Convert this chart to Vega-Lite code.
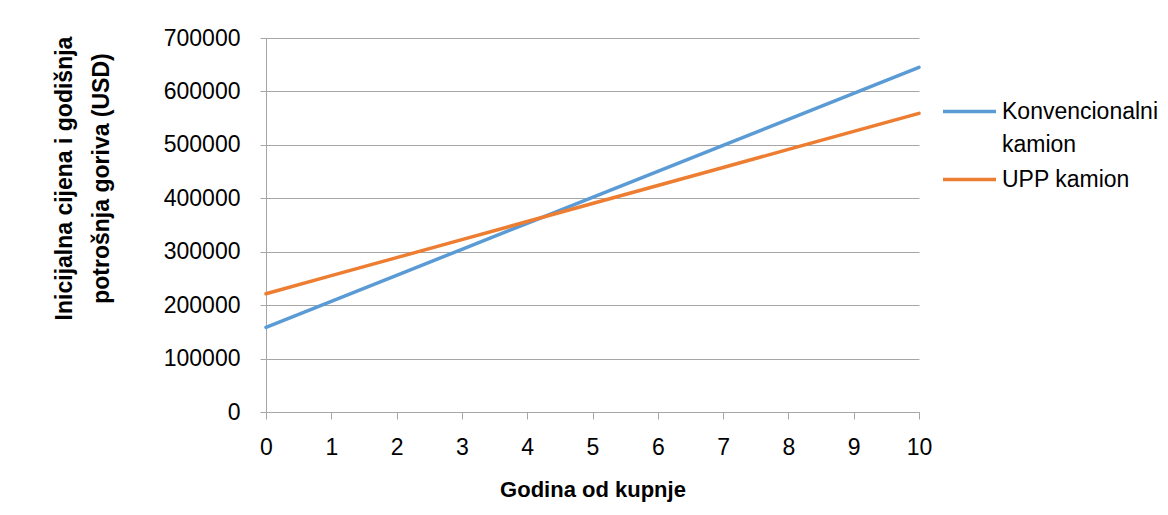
{
  "$schema": "https://vega.github.io/schema/vega-lite/v6.json",
  "width": 653,
  "height": 374,
  "autosize": {"type": "none"},
  "padding": {"left": 266, "top": 38, "right": 249, "bottom": 103},
  "background": "white",
  "config": {
    "font": "Liberation Sans",
    "view": {"stroke": null},
    "axis": {
      "labelFont": "Liberation Sans",
      "titleFont": "Liberation Sans",
      "labelColor": "#000000",
      "titleColor": "#000000",
      "domainColor": "#a6a6a6",
      "tickColor": "#a6a6a6",
      "gridColor": "#a6a6a6",
      "labelFontSize": 23,
      "titleFontSize": 22,
      "titleFontWeight": "bold"
    }
  },
  "data": {
    "values": [
      {"godina": 0, "serija": "Konvencionalni kamion", "vrijednost": 158500},
      {"godina": 1, "serija": "Konvencionalni kamion", "vrijednost": 207160},
      {"godina": 2, "serija": "Konvencionalni kamion", "vrijednost": 255820},
      {"godina": 3, "serija": "Konvencionalni kamion", "vrijednost": 304480},
      {"godina": 4, "serija": "Konvencionalni kamion", "vrijednost": 353140},
      {"godina": 5, "serija": "Konvencionalni kamion", "vrijednost": 401800},
      {"godina": 6, "serija": "Konvencionalni kamion", "vrijednost": 450460},
      {"godina": 7, "serija": "Konvencionalni kamion", "vrijednost": 499120},
      {"godina": 8, "serija": "Konvencionalni kamion", "vrijednost": 547780},
      {"godina": 9, "serija": "Konvencionalni kamion", "vrijednost": 596440},
      {"godina": 10, "serija": "Konvencionalni kamion", "vrijednost": 645100},
      {"godina": 0, "serija": "UPP kamion", "vrijednost": 221400},
      {"godina": 1, "serija": "UPP kamion", "vrijednost": 255160},
      {"godina": 2, "serija": "UPP kamion", "vrijednost": 288920},
      {"godina": 3, "serija": "UPP kamion", "vrijednost": 322680},
      {"godina": 4, "serija": "UPP kamion", "vrijednost": 356440},
      {"godina": 5, "serija": "UPP kamion", "vrijednost": 390200},
      {"godina": 6, "serija": "UPP kamion", "vrijednost": 423960},
      {"godina": 7, "serija": "UPP kamion", "vrijednost": 457720},
      {"godina": 8, "serija": "UPP kamion", "vrijednost": 491480},
      {"godina": 9, "serija": "UPP kamion", "vrijednost": 525240},
      {"godina": 10, "serija": "UPP kamion", "vrijednost": 559000}
    ]
  },
  "mark": {"type": "line", "strokeWidth": 3.5, "strokeCap": "round"},
  "encoding": {
    "x": {
      "field": "godina",
      "type": "quantitative",
      "scale": {"domain": [0, 10], "nice": false, "zero": false},
      "axis": {
        "title": "Godina od kupnje",
        "values": [0, 1, 2, 3, 4, 5, 6, 7, 8, 9, 10],
        "grid": false,
        "tickSize": 7,
        "labelPadding": 17,
        "titlePadding": 20,
        "format": "d",
        "labelFlush": false
      }
    },
    "y": {
      "field": "vrijednost",
      "type": "quantitative",
      "scale": {"domain": [0, 700000], "nice": false},
      "axis": {
        "title": ["Inicijalna cijena i godišnja", "potrošnja goriva (USD)"],
        "values": [0, 100000, 200000, 300000, 400000, 500000, 600000, 700000],
        "format": "d",
        "tickSize": 6,
        "labelPadding": 20,
        "titleX": -190,
        "titleY": 140,
        "titleFontSize": 23,
        "titleBaseline": "bottom",
        "titleLineHeight": 37
      }
    },
    "color": {
      "field": "serija",
      "type": "nominal",
      "scale": {"domain": ["Konvencionalni kamion", "UPP kamion"], "range": ["#5B9BD5", "#ED7D31"]},
      "legend": {
        "title": null,
        "orient": "none",
        "legendX": 675,
        "legendY": 51,
        "symbolType": "stroke",
        "symbolSize": 2809,
        "symbolStrokeWidth": 3.5,
        "labelFontSize": 23,
        "labelFont": "Liberation Sans",
        "labelColor": "#000000",
        "labelLimit": 300,
        "labelOffset": 4,
        "rowPadding": 0,
        "clipHeight": 45,
        "labelExpr": "datum.label == 'Konvencionalni kamion' ? ['Konvencionalni', 'kamion'] : datum.label",
        "encode": {"labels": {"update": {"lineHeight": {"value": 33}}}}
      }
    }
  }
}
